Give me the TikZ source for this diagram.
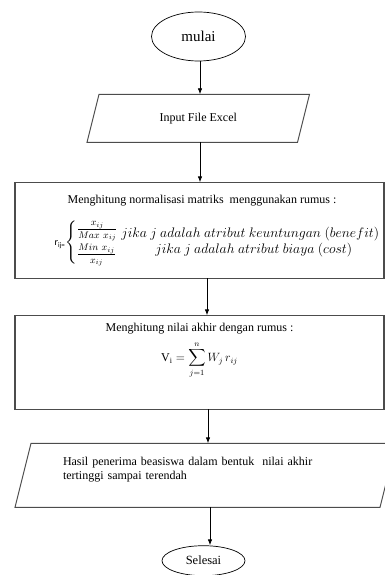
\RequirePackage{fix-cm}
\documentclass[tikz,border=0pt]{standalone}
\usepackage{amsmath}
\usepackage{fontspec}
\setmainfont{Liberation Serif}
\newfontfamily\calibri{Carlito}
\usetikzlibrary{shapes.geometric,positioning,arrows.meta}

\begin{document}
\begin{tikzpicture}[x=1pt,y=1pt,
  terminal/.style={ellipse, draw, line width=0.7pt, inner sep=0pt},
  io/.style={rectangle, inner sep=0pt, outer sep=0pt, font=\fontsize{12}{14}\selectfont},
  ioline/.style={draw=black!70, line width=1pt, line join=miter},
  process/.style={rectangle, draw=black!70, line width=1.1pt, minimum width=369pt,
    inner sep=0pt, outer sep=0pt, align=center, font=\fontsize{12}{15}\selectfont},
  flow/.style={-{Latex[length=6pt,width=4.5pt]}, line width=0.8pt}]

  \useasboundingbox (0,0) rectangle (385,-575);

  % Nodes

  \node[terminal, minimum width=94pt, minimum height=49pt,
    font=\fontsize{15}{18}\selectfont] (mulai) at (198.5,-36.5) {mulai} ; %
  \node[io, below=33pt of mulai, xshift=-0.25pt, minimum width=210.5pt,
    minimum height=48pt] (inputFile) {Input File Excel} ; %
  \node[process, below=40pt of inputFile, xshift=1.25pt, minimum height=96pt] (normMatriks)
    {\hspace*{5pt}Menghitung normalisasi matriks\ \ menggunakan rumus :\\[12pt]
     {\fontsize{13.8}{16}\selectfont
     \hspace*{36pt}{\calibri\fontsize{10}{12}\selectfont r\textsubscript{ij=}}$\left\{\begin{array}{@{}l@{\;}l@{}}
       \frac{\rule{0pt}{7pt}\scriptstyle x_{ij}}{\rule{0pt}{8pt}\scriptstyle Max\ x_{ij}} &
         \raisebox{-5pt}{$jika\ j\ adalah\ atribut\ keuntungan\ (benefit)$}\\[6pt]
       \frac{\rule{0pt}{7pt}\scriptstyle Min\ x_{ij}}{\rule{0pt}{8pt}\scriptstyle x_{ij}} &
         \hspace*{34pt}\raisebox{4pt}{$jika\ j\ adalah\ atribut\ biaya\ (cost)$}
     \end{array}\right.$}} ; %
  \node[process, below=37pt of normMatriks, minimum height=94pt] (nilaiAkhir)
    {Menghitung nilai akhir dengan rumus :\\[7pt]
     $\displaystyle \mathrm{V_i} = \sum_{j=1}^{n} W_j\, r_{ij}$\\[23pt]\mbox{}} ; %
  \node[io, below=34pt of nilaiAkhir, xshift=6pt, minimum width=365pt, minimum height=64pt,
    text width=285pt, align=left] (hasil)
    {Hasil penerima beasiswa dalam bentuk\ \ nilai akhir\\ tertinggi sampai terendah\\ \mbox{}} ; %
  \node[terminal, below=38pt of hasil, xshift=-2pt, minimum width=83pt, minimum height=30pt,
    font=\fontsize{12.5}{15}\selectfont] (selesai) {Selesai} ; %

  % Parallelogram outlines

  \draw[ioline] ([xshift=-6pt]inputFile.south west) -- ([xshift=6pt]inputFile.north west)
    -- ([xshift=6pt]inputFile.north east) -- ([xshift=-6pt]inputFile.south east) -- cycle ;
  \draw[ioline] ([xshift=-8pt]hasil.south west) -- ([xshift=8pt]hasil.north west)
    -- ([xshift=8pt]hasil.north east) -- ([xshift=-8pt]hasil.south east) -- cycle ;

  % Edges

  \draw[flow] ([xshift=1.5pt]mulai.south) -- ([xshift=1.75pt]inputFile.north) ;
  \draw[flow] ([xshift=1.75pt]inputFile.south) -- ([xshift=0.5pt]normMatriks.north) ;
  \draw[flow] ([xshift=7.5pt]normMatriks.south) -- ([xshift=7.5pt]nilaiAkhir.north) ;
  \draw[flow] ([xshift=8.5pt]nilaiAkhir.south) -- ([xshift=2.5pt]hasil.north) ;
  \draw[flow] ([xshift=4.5pt]hasil.south) -- ([xshift=6.5pt]selesai.north) ;

\end{tikzpicture}
\end{document}
